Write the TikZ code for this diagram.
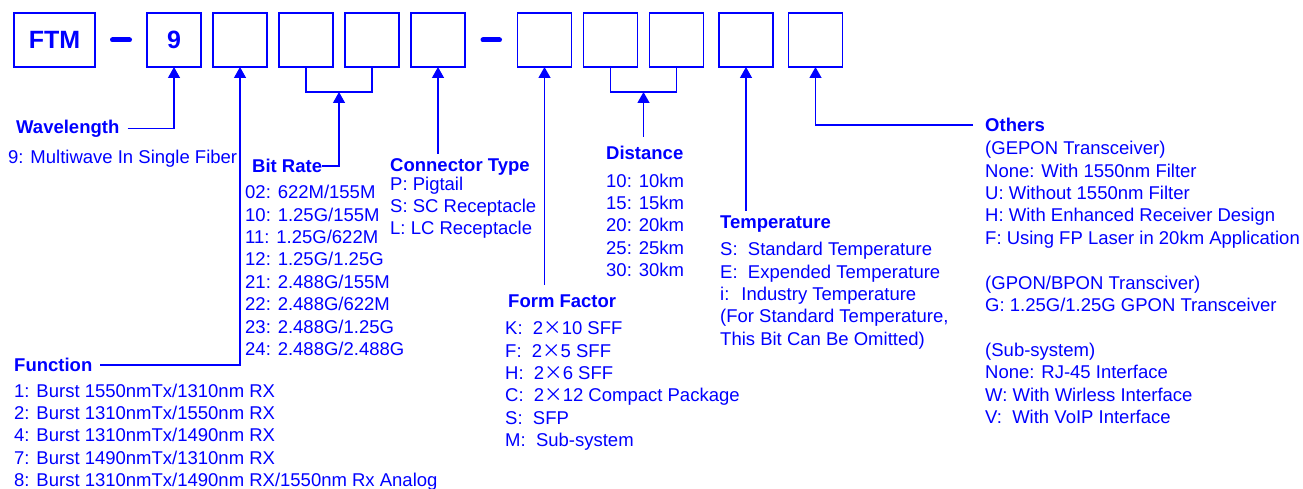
\documentclass[tikz,border=0pt]{standalone}
\usepackage{fontspec}
\setmainfont{Liberation Sans}
\newfontfamily\cjk{Noto Sans CJK SC}
\usetikzlibrary{positioning,arrows.meta}
\definecolor{ftmblue}{RGB}{0,0,255}
\newcommand{\by}{{\cjk ×}}

\begin{document}
\begin{tikzpicture}[
  x=1pt, y=-1pt,
  every node/.style={text=ftmblue},
  keybox/.style={draw=ftmblue, line width=1.8pt, outer sep=0pt, inner sep=0pt, minimum width=54pt, minimum height=54pt, font=\fontsize{25}{30}\selectfont\bfseries},
  head/.style={anchor=base west, inner sep=0pt, font=\fontsize{18.5}{22.4}\selectfont\bfseries},
  items/.style={anchor=north west, align=left, inner sep=0pt, font=\fontsize{18.5}{22.4}\selectfont},
  sep/.style={draw=ftmblue, line width=5pt, line cap=round},
  brk/.style={draw=ftmblue, line width=1.3pt},
  ptr/.style={draw=ftmblue, line width=1.3pt, -{Triangle[width=12pt,length=11pt]}}
]
\useasboundingbox (0,0) rectangle (1303,489);

\node[keybox, minimum width=81pt] (ftm) at (54.5,40) {FTM};
\node[keybox, right=52pt of ftm] (d1) {9};
\node[keybox, right=12pt of d1] (d2) {};
\node[keybox, right=12pt of d2] (d3) {};
\node[keybox, right=12pt of d3] (d4) {};
\node[keybox, right=12pt of d4] (d5) {};
\node[keybox, right=52.5pt of d5] (d6) {};
\node[keybox, right=12pt of d6] (d7) {};
\node[keybox, right=12pt of d7] (d8) {};
\node[keybox, right=15.5pt of d8] (d9) {};
\node[keybox, right=15.5pt of d9] (d10) {};

\node[head] (wl) at (16,133.5) {Wavelength};
\node[head] (br) at (252,172.5) {Bit Rate};
\node[head] (ct) at (390,172) {Connector Type};
\node[head] (ds) at (606,159.5) {Distance};
\node[head] (tp) at (720,228.5) {Temperature};
\node[head] (ff) at (508,307.5) {Form Factor};
\node[head] (ot) at (985,131.5) {Others};
\node[head] (fn) at (14,371.5) {Function};

\node[items] (wlx) at (8,149.5) {9: Multiwave In Single Fiber};
\node[items] (brx) at (245,185) {02: 622M/155M\\10: 1.25G/155M\\11: 1.25G/622M\\12: 1.25G/1.25G\\21: 2.488G/155M\\22: 2.488G/622M\\23: 2.488G/1.25G\\24: 2.488G/2.488G};
\node[items] (ctx) at (390,176.5) {P: Pigtail\\S: SC Receptacle\\L: LC Receptacle};
\node[items] (dsx) at (606,173.5) {10: 10km\\15: 15km\\20: 20km\\25: 25km\\30: 30km};
\node[items] (tpx) at (720,242) {S:~ Standard Temperature\\E:~ Expended Temperature\\i:~ Industry Temperature\\(For Standard Temperature,\\This Bit Can Be Omitted)};
\node[items] (ffx) at (505,321.5) {K:~ 2\by10 SFF\\F:~ 2\by5 SFF\\H:~ 2\by6 SFF\\C:~ 2\by12 Compact Package\\S:~ SFP\\M:~ Sub-system};
\node[items] (otx) at (985,141) {(GEPON Transceiver)\\None: With 1550nm Filter\\U: Without 1550nm Filter\\H: With Enhanced Receiver Design\\F: Using FP Laser in 20km Application\\[22.4pt](GPON/BPON Transciver)\\G: 1.25G/1.25G GPON Transceiver\\[22.4pt](Sub-system)\\None: RJ-45 Interface\\W: With Wirless Interface\\V:~ With VoIP Interface};
\node[items] (fnx) at (14,383.5) {1: Burst 1550nmTx/1310nm RX\\2: Burst 1310nmTx/1550nm RX\\4: Burst 1310nmTx/1490nm RX\\7: Burst 1490nmTx/1310nm RX\\8: Burst 1310nmTx/1490nm RX/1550nm Rx Analog};

\draw[sep] ([xshift=17.5pt]ftm.east) -- ([xshift=-17.5pt]d1.west);
\draw[sep] ([xshift=18pt]d5.east) -- ([xshift=-18pt]d6.west);
\draw[ptr] ([xshift=8pt]wl.east) -| (d1.south);
\draw[ptr] ([xshift=8pt]fn.east) -| (d2.south);
\draw[brk] (d3.south) -- ++(0,25) -| coordinate[pos=0.25] (brk1) (d4.south);
\draw[ptr] (br.east) -| (brk1);
\draw[ptr] ([yshift=5pt]ct.north -| d5.south) -- (d5.south);
\draw[ptr] ([yshift=10pt]ff.north -| d6.south) -- (d6.south);
\draw[brk] (d7.south) -- ++(0,25) -| coordinate[pos=0.25] (brk2) (d8.south);
\draw[ptr] ([yshift=9pt]ds.north -| brk2) -- (brk2);
\draw[ptr] ([yshift=5pt]tp.north -| d9.south) -- (d9.south);
\draw[ptr] ([xshift=-12pt]ot.west) -| (d10.south);
\end{tikzpicture}
\end{document}
